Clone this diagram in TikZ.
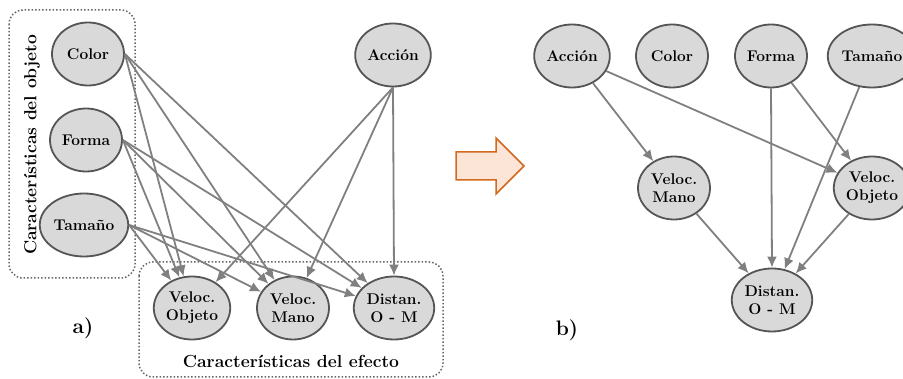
\documentclass[tikz,border=0pt]{standalone}
\usetikzlibrary{shapes.geometric,arrows.meta,shapes.arrows}
\definecolor{nodefill}{HTML}{D9D9D9}
\definecolor{nodeline}{HTML}{555555}
\definecolor{edgecol}{HTML}{808080}
\definecolor{boxline}{HTML}{666666}
\definecolor{arrowline}{HTML}{D2691E}
\definecolor{arrowfill}{HTML}{FCE4D6}
\tikzset{
  var/.style={ellipse, draw=nodeline, line width=1.8pt, fill=nodefill,
    minimum width=72pt, minimum height=63pt, inner sep=1pt,
    align=center, font=\fontsize{15.5}{18}\selectfont\bfseries, text=black},
  link/.style={draw=edgecol, line width=1.8pt, -{Latex[length=11pt,width=10pt]}},
  group/.style={draw=boxline, dotted, line width=1.5pt, rounded corners=14pt},
  grouplabel/.style={font=\fontsize{17.5}{20}\selectfont\bfseries, text=black},
  panel/.style={font=\fontsize{21}{24}\selectfont\bfseries, text=black}
}
\begin{document}
\begin{tikzpicture}[x=1pt,y=-1pt]
\useasboundingbox (0,0) rectangle (903,379);

% ---- a) full graph ----
\draw[group] (9,10) rectangle (135,278);
\draw[group] (139,262) rectangle (443,377);
\node[grouplabel, rotate=90] (lobj) at (32,145) {Características del objeto};
\node[grouplabel] (lefe) at (291,361) {Características del efecto};
\node[panel] (la) at (83,328) {a)};

\node[var] (color) at (88,54) {Color};
\node[var] (forma) at (86,140) {Forma};
\node[var] (tam) at (84,225) {Tamaño};
\node[var] (accion) at (393,55) {Acción};
\node[var] (vobj) at (192,308) {Veloc.\\Objeto};
\node[var] (vmano) at (293,308) {Veloc.\\Mano};
\node[var] (dist) at (394,308) {Distan.\\O - M};

\foreach \s in {color,forma,tam}{
  \foreach \t in {vobj,vmano,dist}{
    \draw[link] (\s.east) -- (\t);
  }
}
\draw[link] (accion.south) -- (vobj);
\draw[link] (accion.south) -- (vmano);
\draw[link] (accion.south) -- (dist.north);

% ---- transition arrow ----
\draw[draw=arrowline, fill=arrowfill, line width=1.5pt, line join=miter]
  (456,152) -- (496,152) -- (496,138) -- (524,166) -- (496,194)
  -- (496,180) -- (456,180) -- cycle;

% ---- b) reduced graph ----
\node[panel] (lb) at (567,330) {b)};
\node[var] (accionb) at (572,56) {Acción};
\node[var] (colorb) at (672,56) {Color};
\node[var] (formab) at (771,56) {Forma};
\node[var] (tamb) at (872,56) {Tamaño};
\node[var] (vmanob) at (674,188) {Veloc.\\Mano};
\node[var] (vobjb) at (872,188) {Veloc.\\Objeto};
\node[var] (distb) at (772,300) {Distan.\\O - M};

\draw[link] (accionb) -- (vmanob);
\draw[link] (accionb) -- (vobjb);
\draw[link] (formab.south) -- (distb.north);
\draw[link] (formab) -- (vobjb);
\draw[link] (tamb) -- (distb);
\draw[link] (vmanob) -- (distb);
\draw[link] (vobjb) -- (distb);
\end{tikzpicture}
\end{document}
